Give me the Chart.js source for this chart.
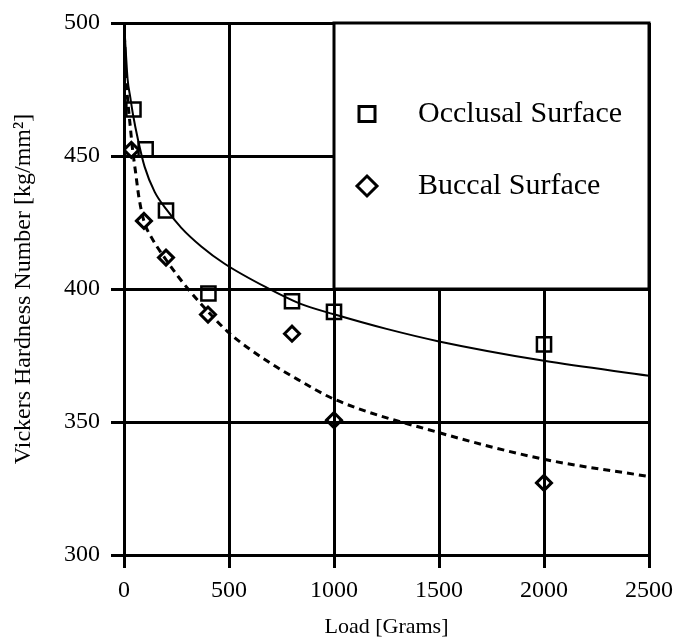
<!DOCTYPE html>
<html>
<head>
<meta charset="utf-8">
<script src="https://cdn.jsdelivr.net/npm/chart.js@4/dist/chart.umd.min.js"></script>
<style>
  body { margin: 0; background: #fff; }
  #wrap { width: 677px; height: 640px; }
</style>
</head>
<body>
<div id="wrap"><canvas id="hvChart" width="677" height="640"></canvas></div>
<script>
const occlusalLoad = [45, 103, 200, 402, 800, 1000, 2000];
const occlusalHv = [467.5, 452.5, 429.5, 398.3, 395.4, 391.4, 379.2];
const buccalLoad = [35, 95, 200, 400, 800, 1000, 2000];
const buccalHv = [452.3, 425.6, 411.8, 390.4, 383.2, 350.7, 327.1];

// fitted curves
const occlusalFitLoad = [0, 8, 17, 30, 43, 67, 98, 146, 201, 273, 368, 479, 680, 838, 1000, 1250, 1500, 2000, 2500];
const occlusalFitHv = [500, 490, 479, 472, 465.5, 456, 446, 436.5, 430, 423, 416, 409.5, 400.5, 394.5, 390.5, 385, 380.3, 373, 367.4];
const buccalFitLoad = [0, 5, 10, 20, 30, 40, 55, 70, 95, 130, 200, 257, 305, 400, 500, 680, 838, 1000, 1500, 2000, 2500];
const buccalFitHv = [500, 489, 479, 469, 461, 453, 444, 435, 425.5, 419.5, 411, 404.8, 400, 391.5, 383.5, 373, 365.5, 358.6, 346, 336, 329.5];

const xTicks = [0, 500, 1000, 1500, 2000, 2500];
const yTicks = [300, 350, 400, 450, 500];

const pts = (xs, ys) => xs.map((x, i) => ({ x, y: ys[i] }));
const SERIF = "'Liberation Serif', 'Times New Roman', serif";

Chart.defaults.font.family = SERIF;
Chart.defaults.color = '#000';

// blank out the upper-right cell and draw the legend in it
const legendBox = {
  id: 'legendBox',
  beforeDatasetsDraw(chart) {
    const { ctx, chartArea: a, scales: { x, y } } = chart;
    const x0 = x.getPixelForValue(1000);
    const y0 = y.getPixelForValue(400);
    ctx.save();
    ctx.fillStyle = '#fff';
    ctx.fillRect(x0, a.top, a.right - x0, y0 - a.top);
    ctx.strokeStyle = '#000';
    ctx.lineWidth = 3;
    ctx.strokeRect(x0, a.top, a.right - x0, y0 - a.top);
    ctx.restore();
  },
  afterDraw(chart) {
    const { ctx, chartArea: a, scales: { x } } = chart;
    const x0 = x.getPixelForValue(1000);
    const mx = x0 + 33;
    const tx = x0 + 84;
    const y1 = a.top + 91;
    const y2 = a.top + 163;
    ctx.save();
    ctx.strokeStyle = '#000';
    ctx.lineWidth = 3;
    ctx.strokeRect(mx - 8, y1 - 7.5, 16, 15);
    ctx.beginPath();
    ctx.moveTo(mx, y2 - 10);
    ctx.lineTo(mx + 10, y2);
    ctx.lineTo(mx, y2 + 10);
    ctx.lineTo(mx - 10, y2);
    ctx.closePath();
    ctx.stroke();
    ctx.fillStyle = '#000';
    ctx.font = '30px ' + SERIF;
    ctx.textBaseline = 'middle';
    ctx.textAlign = 'left';
    ctx.fillText(chart.data.datasets[0].label, tx, y1);
    ctx.fillText(chart.data.datasets[1].label, tx, y2);
    ctx.restore();
  }
};

new Chart(document.getElementById('hvChart'), {
  type: 'scatter',
  data: {
    datasets: [{
      label: 'Occlusal Surface',
      data: pts(occlusalLoad, occlusalHv),
      pointStyle: 'rect',
      pointRadius: 10,
      borderColor: '#000',
      backgroundColor: 'rgba(0,0,0,0)',
      pointBorderWidth: 2.5,
    }, {
      label: 'Buccal Surface',
      data: pts(buccalLoad, buccalHv),
      pointStyle: 'rectRot',
      pointRadius: 7.5,
      borderColor: '#000',
      backgroundColor: 'rgba(0,0,0,0)',
      pointBorderWidth: 3,
    }, {
      type: 'line',
      label: 'Occlusal fit',
      data: pts(occlusalFitLoad, occlusalFitHv),
      borderColor: '#000',
      borderWidth: 2,
      pointRadius: 0,
      cubicInterpolationMode: 'monotone',
      fill: false,
    }, {
      type: 'line',
      label: 'Buccal fit',
      data: pts(buccalFitLoad, buccalFitHv),
      borderColor: '#000',
      borderWidth: 3,
      borderDash: [7, 5],
      pointRadius: 0,
      cubicInterpolationMode: 'monotone',
      fill: false,
    }],
  },
  options: {
    responsive: false,
    animation: false,
    layout: { padding: { top: 23, right: 28, bottom: 0, left: 0 } },
    plugins: { legend: { display: false }, tooltip: { enabled: false } },
    scales: {
      x: {
        type: 'linear',
        min: 0,
        max: 2500,
        afterBuildTicks: s => { s.ticks = xTicks.map(v => ({ value: v })); },
        afterFit: s => { s.height = 85; s.paddingLeft = 0; s.paddingRight = 0; },
        grid: { color: '#000', lineWidth: 3, tickLength: 13, tickWidth: 3, tickColor: '#000' },
        border: { color: '#000', width: 3 },
        ticks: { font: { size: 24 }, padding: 8, maxRotation: 0, callback: v => String(v) },
        title: { display: true, text: 'Load [Grams]', font: { size: 22 }, padding: { top: 0, bottom: 0 } },
      },
      y: {
        min: 300,
        max: 500,
        afterBuildTicks: s => { s.ticks = yTicks.map(v => ({ value: v })); },
        afterFit: s => { s.width = 124; s.paddingTop = 0; s.paddingBottom = 0; },
        grid: { color: '#000', lineWidth: 3, tickLength: 13, tickWidth: 3, tickColor: '#000' },
        border: { color: '#000', width: 3 },
        ticks: { font: { size: 24 }, padding: 11, callback: v => String(v) },
        title: { display: true, text: 'Vickers Hardness Number [kg/mm²]', font: { size: 24 }, padding: { top: 9, bottom: 0 } },
      },
    },
  },
  plugins: [legendBox],
});
</script>
</body>
</html>
